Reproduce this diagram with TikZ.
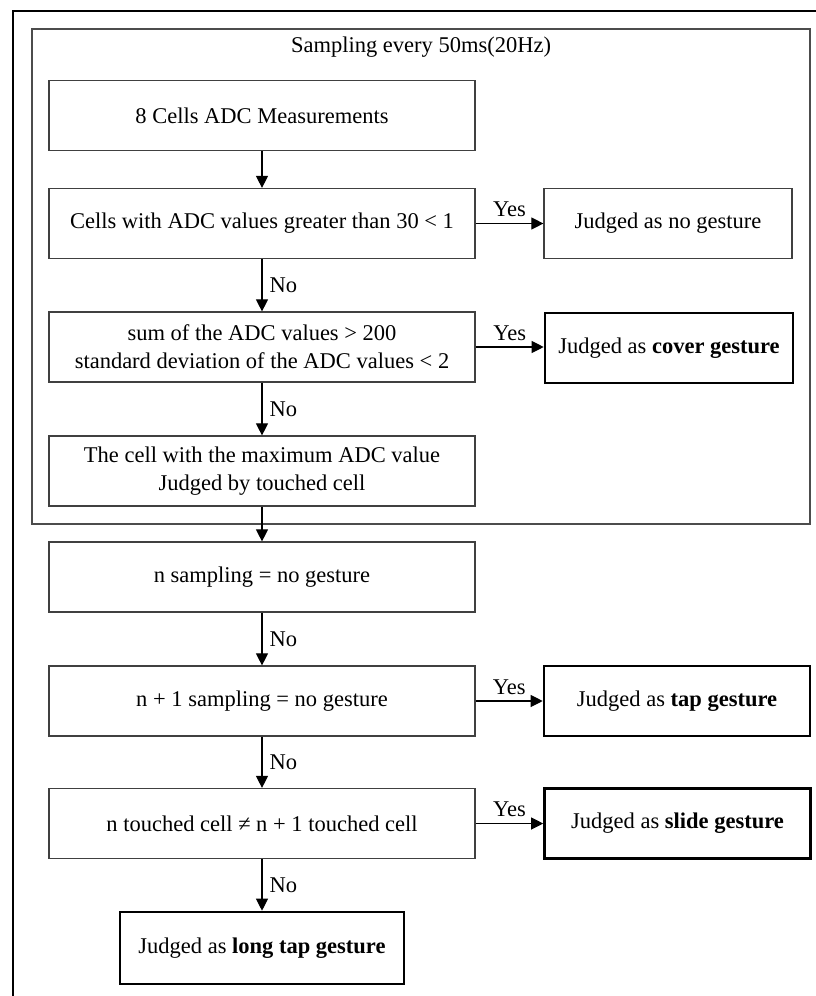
\documentclass[tikz,border=0pt]{standalone}
\usepackage{fontspec}
\setmainfont{Liberation Serif}
\usetikzlibrary{arrows.meta}
\begin{document}
\begin{tikzpicture}[x=1pt,y=-1pt,
  every node/.style={font=\fontsize{22.5}{28}\selectfont},
  stepbox/.style={draw=black!75, line width=1.2pt, fill=white, minimum height=70pt, align=center, inner sep=0pt},
  mainbox/.style={stepbox, minimum width=426pt},
  resbox/.style={stepbox, minimum width=248pt},
  boldbox/.style={draw=black, line width=2.6pt, fill=white, minimum height=70pt, align=center, inner sep=0pt},
  arr/.style={draw=black, line width=1.1pt, -{Triangle[length=12pt,width=12pt]}},
  lab/.style={inner sep=2pt}
]
\useasboundingbox (0,0) rectangle (815,996);
% outer frame (cut off at right and bottom)
\draw[line width=2.8pt, black] (13,1010) -- (13,11) -- (830,11);
% inner frame
\draw[line width=1.4pt, black!70] (32,29) rectangle (810,524);
\node (title) at (421,47) {Sampling every 50ms(20Hz)};

\node[mainbox] (b1) at (262,115.5) {8 Cells ADC Measurements};
\node[mainbox] (b2) at (262,223.5) {Cells with ADC values greater than 30 < 1};
\node[resbox] (n2) at (668,223.5) {Judged as no gesture};
\node[mainbox] (b3) at (262,347) {sum of the ADC values > 200\\standard deviation of the ADC values < 2};
\node[boldbox, minimum width=248pt] (n3) at (669,348) {Judged as \textbf{cover gesture}};
\node[mainbox] (b4) at (262,471) {The cell with the maximum ADC value\\Judged by touched cell};
\node[mainbox] (b5) at (262,577) {n sampling = no gesture};
\node[mainbox] (b6) at (262,701) {n + 1 sampling = no gesture};
\node[boldbox, minimum width=266pt] (n6) at (677,701) {Judged as \textbf{tap gesture}};
\node[mainbox] (b7) at (262,823.5) {n touched cell ≠ n + 1 touched cell};
\node[boldbox, minimum width=266pt] (n7) at (677.5,823.5) {Judged as \textbf{slide gesture}};
\node[boldbox, minimum width=284pt, minimum height=72pt] (b8) at (262,948) {Judged as \textbf{long tap gesture}};

\draw[arr] (b1) -- (b2);
\draw[arr] (b2) -- node[lab, above=4pt] (y1) {Yes} (n2);
\draw[arr] (b2) -- node[lab, right=5pt] (no1) {No} (b3);
\draw[arr] (b3) -- node[lab, above=4pt] (y2) {Yes} (n3.west |- b3);
\draw[arr] (b3) -- node[lab, right=5pt] (no2) {No} (b4);
\draw[arr] (b4) -- (b5);
\draw[arr] (b5) -- node[lab, right=5pt] (no3) {No} (b6);
\draw[arr] (b6) -- node[lab, above=4pt] (y3) {Yes} (n6);
\draw[arr] (b6) -- node[lab, right=5pt] (no4) {No} (b7);
\draw[arr] (b7) -- node[lab, above=4pt] (y4) {Yes} (n7);
\draw[arr] (b7) -- node[lab, right=5pt] (no5) {No} (b8);
\end{tikzpicture}
\end{document}
